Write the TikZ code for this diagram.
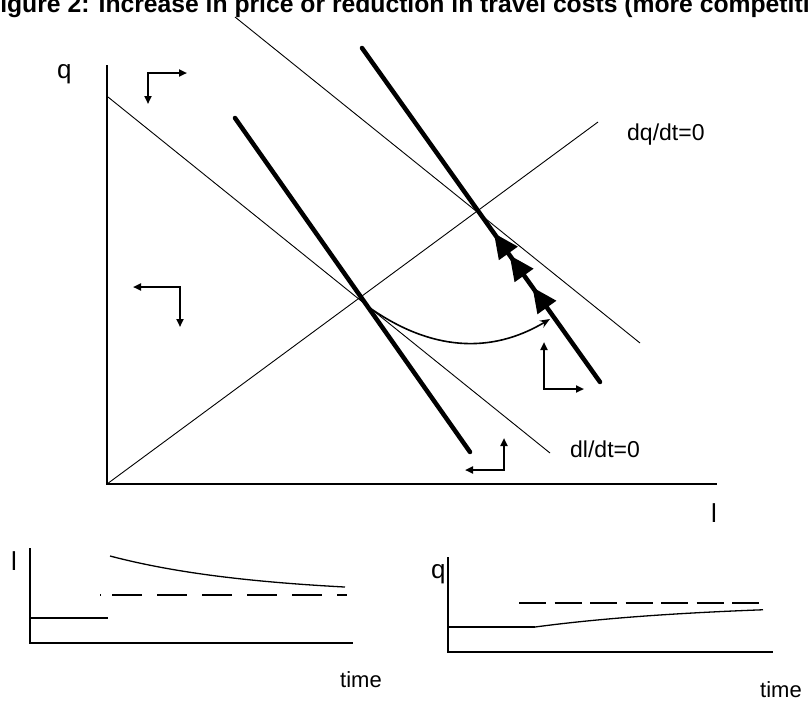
\documentclass[tikz,border=0pt]{standalone}
\usepackage{fontspec}
\setmainfont{Liberation Sans}
\usetikzlibrary{arrows.meta,calc,decorations.markings}
\begin{document}
\begin{tikzpicture}[x=1pt,y=-1pt,
  thinline/.style={line width=0.9pt},
  axis/.style={line width=1.8pt},
  saddle/.style={line width=4.5pt, line cap=round},
  phase/.style={line width=2pt, {Triangle[length=8pt,width=7pt]}-{Triangle[length=8pt,width=7pt]}},
  lbl/.style={inner sep=0pt, anchor=base west, font=\fontsize{22}{24}\selectfont},
  eqlbl/.style={inner sep=0pt, anchor=base west, font=\fontsize{23}{25}\selectfont},
  biglbl/.style={inner sep=0pt, anchor=base west, font=\fontsize{26}{28}\selectfont}]
\useasboundingbox (0,0) rectangle (809,702);
\clip (0,0) rectangle (809,702);
% title (cropped in the reference)
\node[anchor=base west, inner sep=0pt, font=\fontsize{24.7}{27}\selectfont\bfseries] (title) at (-15,12.5)
  {Figure 2: Increase in price or reduction in travel costs (more competition)};
% main axes
\coordinate (O) at (107,484);
\coordinate (qtop) at (107,65);
\coordinate (lend) at (717,484);
\draw[axis] (qtop) -- (O) -- (lend);
\node[biglbl] (qlbl) at (57,78) {q};
\node[biglbl] (llbl) at (711,522) {l};
% dq/dt = 0
\coordinate (dqend) at (598,122);
\draw[thinline] (O) -- (dqend);
\node[eqlbl] (dqlbl) at (627,140) {dq/dt=0};
% dl/dt = 0 old and new
\coordinate (dl1a) at (108,97);
\coordinate (dl1b) at (550,453);
\draw[thinline] (dl1a) -- (dl1b);
\node[eqlbl] (dllbl) at (570,457) {dl/dt=0};
\coordinate (dl2a) at (235,17);
\coordinate (dl2b) at (640,343);
\draw[thinline] (dl2a) -- (dl2b);
% saddle paths
\coordinate (s1a) at (235,118);
\coordinate (s1b) at (470,452);
\draw[saddle] (s1a) -- (s1b);
\coordinate (s2a) at (362,48);
\coordinate (s2b) at (600,382);
\draw[saddle, postaction={decorate}, decoration={markings,
   mark=at position 0.284 with {\arrow{Triangle[length=25pt,width=22pt]}},
   mark=at position 0.38 with {\arrow{Triangle[length=25pt,width=22pt]}},
   mark=at position 0.446 with {\arrow{Triangle[length=25pt,width=22pt]}}}]
   (s2b) -- (s2a);
% adjustment path
\coordinate (cstart) at (370,308);
\coordinate (cend) at (550,319);
\draw[line width=1.6pt, -{Stealth[length=10pt,width=8pt]}] (cstart) .. controls (430,350) and (490,355) .. (cend);
% phase arrows
\coordinate (p1a) at (187,73); \coordinate (p1c) at (148,73); \coordinate (p1b) at (148,104);
\draw[phase] (p1a) -- (p1c) -- (p1b);
\coordinate (p2a) at (133,287); \coordinate (p2c) at (180,287); \coordinate (p2b) at (180,327);
\draw[phase] (p2a) -- (p2c) -- (p2b);
\coordinate (p3a) at (465,470); \coordinate (p3c) at (504,470); \coordinate (p3b) at (504,438);
\draw[phase] (p3a) -- (p3c) -- (p3b);
\coordinate (p4a) at (544,342); \coordinate (p4c) at (544,389); \coordinate (p4b) at (584,389);
\draw[phase] (p4a) -- (p4c) -- (p4b);
% bottom-left time plot (l)
\coordinate (L0) at (30,643);
\coordinate (Ltop) at (30,548);
\coordinate (Lend) at (353,643);
\draw[axis] (Ltop) -- (L0) -- (Lend);
\node[biglbl] (Llbl) at (11,570) {l};
\node[lbl] (Ltime) at (340,687) {time};
\coordinate (Li0) at (30,618);
\coordinate (Li1) at (108,618);
\draw[line width=1.3pt] (Li0) -- (Li1);
\draw[line width=1.3pt] plot[domain=110:345, samples=60] (\x, {595-39*exp(-(\x-110)/148)});
\coordinate (Ld0) at (100,595);
\coordinate (Ld1) at (347,595);
\draw[line width=2.2pt, dash pattern=on 1pt off 11pt on 30pt off 15pt on 30pt off 15pt on 30pt off 15pt on 30pt off 15pt on 30pt off 15pt on 30pt off 15pt] (Ld0) -- (Ld1);
% bottom-right time plot (q)
\coordinate (R0) at (448,652);
\coordinate (Rtop) at (448,557);
\coordinate (Rend) at (773,652);
\draw[axis] (Rtop) -- (R0) -- (Rend);
\node[biglbl] (Rlbl) at (431,578) {q};
\node[lbl] (Rtime) at (760,697) {time};
\coordinate (Ri0) at (448,627);
\coordinate (Ri1) at (535,627);
\draw[line width=1.3pt] (Ri0) -- (Ri1);
\draw[line width=1.3pt] plot[domain=535:763, samples=60] (\x, {603+24*exp(-(\x-535)/180)});
\coordinate (Rd0) at (519,603);
\coordinate (Rd1) at (767,603);
\draw[line width=2pt, dash pattern=on 27pt off 8.5pt] (Rd0) -- (Rd1);
\end{tikzpicture}
\end{document}
